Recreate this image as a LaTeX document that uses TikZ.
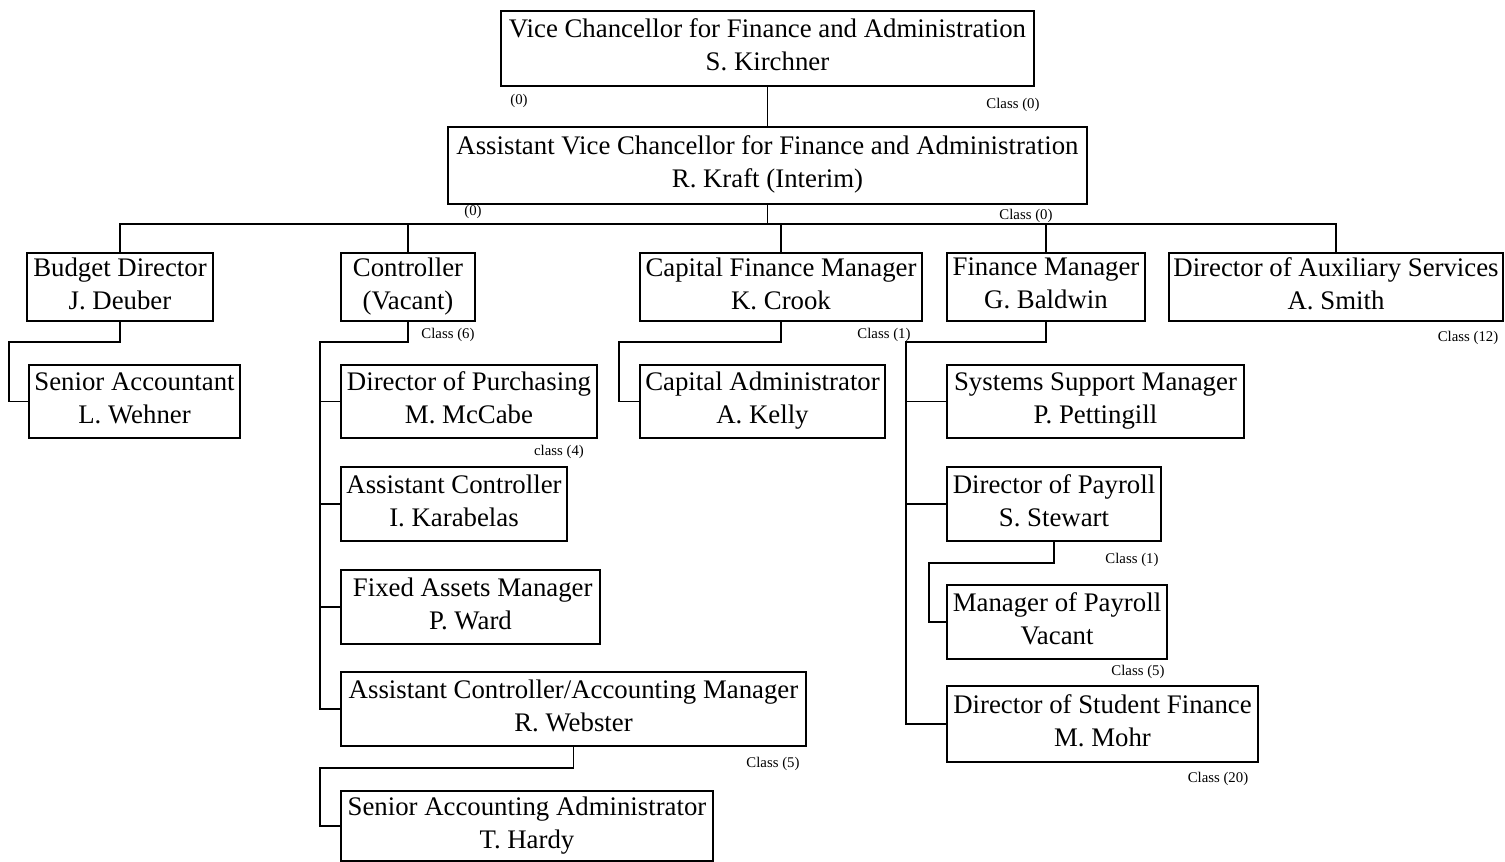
\documentclass[tikz,border=0pt]{standalone}
\usepackage{fontspec}
\setmainfont{Liberation Serif}
\newcommand\topstrut{\rule{0pt}{13pt}}
\newcommand\botstrut{\rule[-3.5pt]{0pt}{3.5pt}}
\begin{document}
\begin{tikzpicture}[x=0.5pt,y=-0.5pt,
  box/.style={draw, line width=0.9pt, inner sep=0pt, align=center,
    font=\fontsize{13.4}{16.5}\selectfont,
    execute at begin node=\topstrut, execute at end node=\botstrut},
  conn/.style={line width=0.85pt},
  small/.style={inner sep=0pt, font=\fontsize{7.4}{8.5}\selectfont}]
\useasboundingbox (0,0) rectangle (1505,862);
% boxes
\node[box, minimum width=266.5pt, minimum height=37.5pt] (vc) at (767.5,48.5) {Vice Chancellor for Finance and Administration\\S. Kirchner};
\node[box, minimum width=319.5pt, minimum height=38.5pt] (avc) at (767.5,165.5) {Assistant Vice Chancellor for Finance and Administration\\R. Kraft (Interim)};
\node[box, minimum width=93pt, minimum height=34pt] (bud) at (120,287) {Budget Director\\J. Deuber};
\node[box, minimum width=67pt, minimum height=34pt] (ctl) at (408,287) {Controller\\(Vacant)};
\node[box, minimum width=141pt, minimum height=34pt] (cfm) at (781,287) {Capital Finance Manager\\K. Crook};
\node[box, minimum width=99pt, minimum height=34pt] (fm) at (1046,287) {Finance Manager\\G. Baldwin};
\node[box, minimum width=167pt, minimum height=34pt] (aux) at (1336,287) {Director of Auxiliary Services\\A. Smith};
\node[box, minimum width=105.5pt, minimum height=36.5pt] (sa) at (134.5,401.5) {Senior Accountant\\L. Wehner};
\node[box, minimum width=128pt, minimum height=36.5pt] (dop) at (469,401.5) {Director of Purchasing\\M. McCabe};
\node[box, minimum width=113pt, minimum height=37pt] (ac) at (454,504) {Assistant Controller\\I. Karabelas};
\node[box, minimum width=129.5pt, minimum height=37pt] (fam) at (470.5,607) {\,Fixed Assets Manager\\P. Ward};
\node[box, minimum width=232.5pt, minimum height=37pt] (acam) at (573.5,709) {Assistant Controller/Accounting Manager\\R. Webster};
\node[box, minimum width=186pt, minimum height=35pt] (saa) at (527,826) {Senior Accounting Administrator\\T. Hardy};
\node[box, minimum width=122.5pt, minimum height=36.5pt] (ca) at (762.5,401.5) {Capital Administrator\\A. Kelly};
\node[box, minimum width=148.5pt, minimum height=36.5pt] (ssm) at (1095.5,401.5) {Systems Support Manager\\P. Pettingill};
\node[box, minimum width=107pt, minimum height=37pt] (dpay) at (1054,504) {Director of Payroll\\S. Stewart};
\node[box, minimum width=110pt, minimum height=37pt] (mop) at (1057,622) {Manager of Payroll\\Vacant};
\node[box, minimum width=155.5pt, minimum height=38pt] (dsf) at (1102.5,724) {Director of Student Finance\\M. Mohr};
% small labels
\node[small] (l1) at (519,101) {(0)};
\node[small] (l2) at (1013,105) {Class (0)};
\node[small] (l3) at (473,212) {(0)};
\node[small] (l4) at (1026,216) {Class (0)};
\node[small] (l5) at (448,335) {Class (6)};
\node[small] (l6) at (884,335) {Class (1)};
\node[small] (l7) at (1468,338) {Class (12)};
\node[small] (l8) at (559,452) {class (4)};
\node[small] (l9) at (1132,560) {Class (1)};
\node[small] (l10) at (1138,672) {Class (5)};
\node[small] (l11) at (773,764) {Class (5)};
\node[small] (l12) at (1218,779) {Class (20)};
% junction coordinates
\coordinate (busy) at (0,224);
\coordinate (j1) at (9,342);
\coordinate (c1) at (320,342);
\coordinate (c2) at (320,768);
\coordinate (k1) at (619,342);
\coordinate (f1) at (906,342);
\coordinate (p1) at (929,563);
% connectors
\draw[conn] (vc.south) -- (avc.north);
\draw[conn] (avc.south) -- (avc.south |- busy);
\draw[conn] (bud.north) |- (aux.north |- busy) -- (aux.north);
\draw[conn] (ctl.north) -- (ctl.north |- busy);
\draw[conn] (cfm.north) -- (cfm.north |- busy);
\draw[conn] (fm.north) -- (fm.north |- busy);
\draw[conn] (bud.south) |- (j1) |- (sa.west);
\draw[conn] (ctl.south) |- (c1) |- (acam.west);
\draw[conn] (c1 |- dop.west) -- (dop.west);
\draw[conn] (c1 |- ac.west) -- (ac.west);
\draw[conn] (c1 |- fam.west) -- (fam.west);
\draw[conn] (acam.south) |- (c2) |- (saa.west);
\draw[conn] (cfm.south) |- (k1) |- (ca.west);
\draw[conn] (fm.south) |- (f1) |- (dsf.west);
\draw[conn] (f1 |- ssm.west) -- (ssm.west);
\draw[conn] (f1 |- dpay.west) -- (dpay.west);
\draw[conn] (dpay.south) |- (p1) |- (mop.west);
\end{tikzpicture}
\end{document}
